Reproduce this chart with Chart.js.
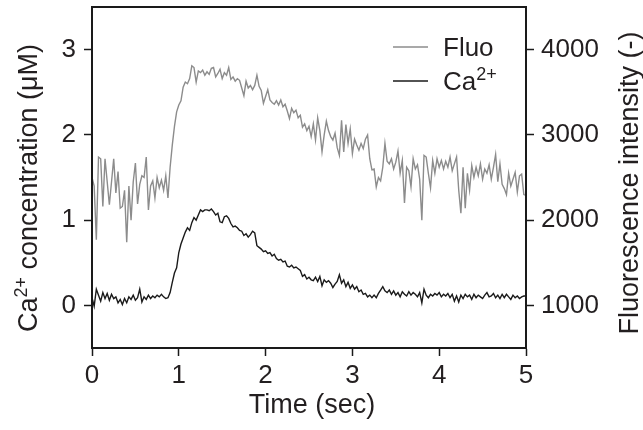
<!DOCTYPE html>
<html>
<head>
<meta charset="utf-8">
<script src="https://cdn.jsdelivr.net/npm/chart.js@4"></script>
<style>
html,body{margin:0;padding:0;background:#fff;}
#wrap{width:643px;height:430px;position:relative;}
</style>
</head>
<body>
<div id="wrap"><canvas id="c" width="643" height="430"></canvas></div>
<script>
// ---- data ----
const sampleInterval = 0.025; // seconds between samples
const caConcentration = [
0.09,-0.01,0.19,0.12,0.05,0.15,0.08,0.14,0.06,0.13,
0.08,0.10,0.03,0.07,0.01,0.08,0.03,0.10,0.07,0.12,
0.06,0.09,0.19,0.04,0.10,0.07,0.12,0.08,0.11,0.09,
0.12,0.10,0.13,0.10,0.08,0.09,0.15,0.27,0.38,0.44,
0.62,0.72,0.79,0.86,0.91,0.88,0.97,1.03,1.00,1.06,
1.12,1.10,1.12,1.12,1.11,1.13,1.10,1.06,1.08,0.98,
0.97,1.04,1.05,1.02,0.96,0.92,0.93,0.91,0.88,0.87,
0.82,0.84,0.80,0.83,0.87,0.85,0.70,0.68,0.66,0.63,
0.64,0.61,0.62,0.58,0.60,0.55,0.53,0.54,0.51,0.52,
0.46,0.45,0.47,0.44,0.45,0.43,0.41,0.34,0.36,0.31,
0.33,0.30,0.29,0.33,0.28,0.34,0.23,0.30,0.27,0.29,
0.26,0.21,0.25,0.28,0.36,0.26,0.30,0.22,0.27,0.20,
0.24,0.19,0.22,0.16,0.18,0.13,0.14,0.10,0.12,0.09,
0.12,0.09,0.14,0.18,0.22,0.17,0.15,0.18,0.13,0.17,
0.12,0.15,0.10,0.16,0.13,0.11,0.16,0.12,0.15,0.13,
0.10,0.15,0.03,0.19,0.12,0.09,0.13,0.11,0.14,0.12,
0.15,0.10,0.13,0.11,0.14,0.09,0.13,0.05,0.11,0.04,
0.12,0.08,0.13,0.10,0.12,0.07,0.13,0.09,0.12,0.10,
0.08,0.12,0.15,0.10,0.11,0.14,0.09,0.12,0.08,0.13,
0.09,0.13,0.10,0.07,0.12,0.09,0.11,0.08,0.10,0.11,
0.11];
const fluoIntensity = [
2500,2400,1770,2740,2720,2160,2720,2450,2180,2450,
2720,2320,2570,2140,2160,2350,1740,2400,2000,2450,
2670,2190,2420,2520,2500,2740,2120,2400,2460,2260,
2500,2380,2470,2350,2520,2260,2620,2880,3100,3270,
3350,3400,3560,3620,3600,3660,3810,3790,3620,3750,
3730,3760,3700,3740,3710,3780,3790,3680,3720,3770,
3660,3730,3700,3790,3650,3680,3630,3660,3640,3550,
3460,3630,3550,3580,3530,3580,3700,3570,3520,3370,
3450,3530,3410,3380,3360,3400,3350,3410,3330,3360,
3280,3190,3310,3260,3290,3200,3230,3090,3130,3050,
3100,2980,3130,2940,3200,3050,2800,3000,3160,3050,
2980,2940,3020,2850,2760,3170,2800,3120,2900,3070,
2780,2950,2880,2820,2900,2840,2950,3000,2720,2590,
2600,2390,2500,2460,2620,2900,2690,2660,2720,2600,
2680,2810,2550,2700,2200,2620,2580,2390,2720,2600,
2650,2480,2000,2760,2740,2550,2380,2700,2550,2720,
2620,2700,2600,2690,2620,2740,2580,2660,2740,2350,
2080,2620,2140,2550,2350,2640,2500,2620,2520,2660,
2480,2600,2550,2650,2480,2620,2770,2450,2660,2420,
2370,2300,2550,2400,2480,2560,2330,2520,2540,2300,
2290];
const xTicks = [0, 1, 2, 3, 4, 5];
const caTicks = [0, 1, 2, 3];
const fluoTicks = [1000, 2000, 3000, 4000];

const times = caConcentration.map((_, i) => i * sampleInterval);
const caPoints = caConcentration.map((v, i) => ({x: times[i], y: v}));
const fluoPoints = fluoIntensity.map((v, i) => ({x: times[i], y: v}));

// ---- styling ----
const FONT = '"Liberation Sans", Arial, Helvetica, sans-serif';
const TXT = '#231f20';
const AXC = '#1a1a1a';
const FLUO_C = '#8c8c8c';
const CA_C = '#1a1a1a';

function richText(ctx, parts, x, y, align) {
  let total = 0;
  parts.forEach(p => { ctx.font = p.size + 'px ' + FONT; p.w = ctx.measureText(p.t).width; total += p.w; });
  let cx = align === 'center' ? x - total / 2 : x;
  parts.forEach(p => {
    ctx.font = p.size + 'px ' + FONT;
    ctx.textAlign = 'left';
    ctx.textBaseline = 'alphabetic';
    ctx.fillText(p.t, cx, y + (p.dy || 0));
    cx += p.w;
  });
}

const decor = {
  id: 'decor',
  afterDraw(chart) {
    const ctx = chart.ctx;
    const a = chart.chartArea;
    ctx.save();
    ctx.strokeStyle = AXC;
    ctx.lineWidth = 2;
    ctx.strokeRect(a.left, a.top, a.right - a.left, a.bottom - a.top);
    ctx.fillStyle = TXT;
    // left title
    ctx.save();
    ctx.translate(37, 188);
    ctx.rotate(-Math.PI / 2);
    richText(ctx, [
      {t: 'Ca', size: 27},
      {t: '2+', size: 18, dy: -10},
      {t: ' concentration (\u03bcM)', size: 27}
    ], 0, 0, 'center');
    ctx.restore();
    // right title
    ctx.save();
    ctx.translate(638, 183);
    ctx.rotate(-Math.PI / 2);
    richText(ctx, [{t: 'Fluorescence intensity (-)', size: 27}], 0, 0, 'center');
    ctx.restore();
    // x title
    richText(ctx, [{t: 'Time (sec)', size: 27}], 312, 413, 'center');
    // legend
    const items = [
      {color: FLUO_C, y: 47, parts: [{t: 'Fluo', size: 26}]},
      {color: CA_C, y: 81, parts: [{t: 'Ca', size: 26}, {t: '2+', size: 18, dy: -10}]}
    ];
    items.forEach(it => {
      ctx.strokeStyle = it.color;
      ctx.lineWidth = 1.5;
      ctx.beginPath();
      ctx.moveTo(393, it.y);
      ctx.lineTo(428, it.y);
      ctx.stroke();
      ctx.fillStyle = TXT;
      richText(ctx, it.parts, 443, it.y + 9, 'left');
    });
    ctx.restore();
  }
};

const tickFont = {family: FONT, size: 26};
const plainLabel = v => String(v);

new Chart(document.getElementById('c'), {
  type: 'line',
  data: {
    datasets: [
      {label: 'Fluo', data: fluoPoints, yAxisID: 'y1', borderColor: FLUO_C, borderWidth: 1.4, pointRadius: 0, tension: 0, fill: false},
      {label: 'Ca2+', data: caPoints, yAxisID: 'y', borderColor: CA_C, borderWidth: 1.4, pointRadius: 0, tension: 0, fill: false}
    ]
  },
  options: {
    responsive: false,
    animation: false,
    layout: {padding: {top: 7, left: 0, right: 0, bottom: 0}},
    plugins: {legend: {display: false}, tooltip: {enabled: false}},
    scales: {
      x: {
        type: 'linear', min: 0, max: 5,
        afterBuildTicks: s => { s.ticks = xTicks.map(v => ({value: v})); },
        afterFit: s => { s.height = 82; s.paddingLeft = 0; s.paddingRight = 0; },
        ticks: {font: tickFont, color: TXT, padding: 4, maxRotation: 0, autoSkip: false, callback: plainLabel},
        grid: {drawOnChartArea: false, drawTicks: true, tickLength: 8, tickColor: AXC, tickWidth: 1.5},
        border: {display: true, color: AXC, width: 2}
      },
      y: {
        type: 'linear', position: 'left', min: -0.5, max: 3.5,
        afterBuildTicks: s => { s.ticks = caTicks.map(v => ({value: v})); },
        afterFit: s => { s.width = 92; s.paddingTop = 0; s.paddingBottom = 0; },
        ticks: {font: tickFont, color: TXT, padding: 8, autoSkip: false, callback: plainLabel},
        grid: {drawOnChartArea: false, drawTicks: true, tickLength: 8, tickColor: AXC, tickWidth: 1.5},
        border: {display: true, color: AXC, width: 2}
      },
      y1: {
        type: 'linear', position: 'right', min: 500, max: 4500,
        afterBuildTicks: s => { s.ticks = fluoTicks.map(v => ({value: v})); },
        afterFit: s => { s.width = 117; s.paddingTop = 0; s.paddingBottom = 0; },
        ticks: {font: tickFont, color: TXT, padding: 7, autoSkip: false, callback: plainLabel},
        grid: {drawOnChartArea: false, drawTicks: true, tickLength: 8, tickColor: AXC, tickWidth: 1.5},
        border: {display: true, color: AXC, width: 2}
      }
    }
  },
  plugins: [decor]
});
</script>
</body>
</html>
